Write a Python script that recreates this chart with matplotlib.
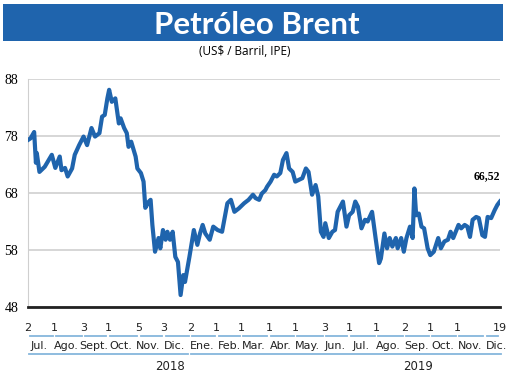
import matplotlib.pyplot as plt
import matplotlib.patches as mpatches
import pandas as pd

# Precio del petroleo Brent (US$/barril)
inicio = pd.Timestamp("2018-07-02")
dias = [0, 3, 7, 9, 10, 13, 19, 27, 31, 36, 38, 42, 45, 50, 53, 58, 63, 67, 72, 76,
        81, 84, 87, 90, 92, 95, 99, 103, 105, 109, 112, 114, 117, 122, 124, 128, 131, 133, 137, 139,
        141, 144, 148, 150, 153, 156, 158, 161, 164, 167, 170, 173, 176, 178, 183, 188, 192, 195, 198, 201,
        206, 210, 215, 220, 226, 230, 234, 239, 245, 250, 255, 258, 262, 265, 269, 271, 275, 279, 282, 286,
        289, 293, 296, 300, 303, 307, 311, 315, 318, 322, 326, 329, 332, 335, 337, 341, 345, 348, 351, 354,
        357, 361, 364, 368, 371, 374, 378, 382, 385, 390, 394, 398, 400, 404, 407, 410, 413, 417, 419, 423,
        426, 429, 433, 436, 438, 440, 443, 446, 449, 453, 456, 460, 465, 468, 472, 476, 479, 482, 488, 491,
        495, 498, 501, 504, 508, 511, 515, 518, 521, 525, 529, 532, 535]
precio = [77.3, 77.6, 78.7, 73.3, 75.0, 71.7, 72.6, 74.7, 72.4, 74.4, 72.0, 72.4, 70.9, 72.3, 74.7, 76.4, 77.9, 76.4, 79.4, 77.9,
          78.5, 81.4, 81.7, 84.6, 86.1, 84.0, 84.6, 80.2, 81.1, 79.4, 78.5, 76.1, 77.0, 74.4, 72.3, 71.5, 70.0, 65.4, 66.5, 66.8,
          62.4, 57.7, 60.1, 58.3, 61.5, 59.8, 61.2, 59.8, 61.2, 56.8, 55.9, 50.1, 53.6, 52.4, 56.8, 61.5, 58.9, 60.9, 62.4, 60.9,
          59.8, 62.1, 61.5, 61.2, 66.2, 66.8, 64.7, 65.3, 66.2, 66.8, 67.7, 67.1, 66.8, 67.9, 68.5, 69.1, 70.0, 71.2, 70.9, 71.5,
          73.8, 75.0, 72.3, 71.7, 70.0, 70.3, 70.6, 72.3, 71.7, 67.7, 69.4, 67.4, 61.2, 60.3, 62.7, 60.1, 61.2, 61.5, 64.7, 65.6,
          66.5, 62.1, 64.1, 64.7, 66.5, 65.6, 61.8, 63.3, 63.0, 64.7, 60.1, 55.7, 56.5, 60.9, 58.3, 60.1, 58.6, 60.1, 58.3, 60.1,
          57.7, 60.1, 62.1, 60.1, 68.8, 64.1, 64.4, 62.1, 61.8, 58.3, 57.1, 57.7, 60.1, 58.3, 59.5, 59.8, 61.2, 60.1, 62.4, 61.8,
          62.4, 62.1, 60.3, 63.3, 63.8, 63.6, 60.6, 60.3, 63.8, 63.6, 65.0, 65.9, 66.52]

# primer dia de cada mes en el eje
inicios_mes = ["2018-07-02", "2018-08-01", "2018-09-03", "2018-10-01", "2018-11-05", "2018-12-03",
               "2019-01-02", "2019-02-01", "2019-03-01", "2019-04-01", "2019-05-01", "2019-06-03",
               "2019-07-01", "2019-08-01", "2019-09-02", "2019-10-01", "2019-11-01", "2019-12-02", "2019-12-19"]
etiq_dia = ["2", "1", "3", "1", "5", "3", "2", "1", "1", "1", "1", "3", "1", "1", "2", "1", "1", "", "19"]
meses = ["Jul.", "Ago.", "Sept.", "Oct.", "Nov.", "Dic.", "Ene.", "Feb.", "Mar.", "Abr.", "May.", "Jun.",
         "Jul.", "Ago.", "Sep.", "Oct.", "Nov.", "Dic."]
centro_mes = pd.date_range("2018-07-01", "2019-12-01", freq="MS") + pd.Timedelta(days=14)
anios = ["2018", "2019"]
pos_anio = ["2018-12-10", "2019-09-17"]
rango_anio = [("2018-07-03", "2018-12-30"), ("2019-01-03", "2019-12-20")]

fechas = inicio + pd.to_timedelta(dias, unit="D")
azul = "#1f64ad"
celeste = "#86b6dc"

fig = plt.figure(figsize=(5.2, 3.76), dpi=100)
fig.patches.append(mpatches.Rectangle((0.006, 0.891), 0.962, 0.098, transform=fig.transFigure,
                                      facecolor=azul, edgecolor="none"))
fig.text(0.494, 0.9096, "Petróleo Brent", color="white", fontsize=22.5, fontweight="bold",
         family="Lato", ha="center", va="baseline")
fig.text(0.471, 0.862, "(US$ / Barril, IPE)", fontsize=8.5, family="Open Sans", ha="center", va="center")

ax = fig.add_axes([0.0538, 0.1835, 0.9077, 0.6064])
ax.plot(fechas, precio, color=azul, linewidth=3, solid_joinstyle="round", zorder=3)
ax.set_ylim(48, 88)
ax.set_xlim(inicio, pd.Timestamp("2019-12-19"))
ax.set_yticks([48, 58, 68, 78, 88])
ax.tick_params(axis="y", length=0, pad=7, labelsize=10)
for t in ax.get_yticklabels():
    t.set_family("Liberation Serif")
ax.set_xticks([])
ax.grid(axis="y", color="#cfcfcf", linewidth=1.2)
for s in ["top", "right"]:
    ax.spines[s].set_visible(False)
ax.spines["left"].set_color("#cfcfcf")
ax.spines["bottom"].set_color("#222222")
ax.spines["bottom"].set_linewidth(2)

ax.text(pd.Timestamp("2019-12-19"), 71, "66,52", fontsize=8.5, fontweight="bold",
        family="Liberation Serif", ha="right", va="center")

tr = ax.get_xaxis_transform()
fnt = ["Liberation Sans Narrow", "DejaVu Sans"]
ini = pd.to_datetime(inicios_mes)
for i, (f, d) in enumerate(zip(ini, etiq_dia)):
    if d:
        ax.text(f, -0.092, d, transform=tr, fontsize=8, family=fnt, ha="center", va="center", color="#222222")
    if i < len(ini) - 1:
        ax.plot([f + pd.Timedelta(days=2), ini[i + 1] - pd.Timedelta(days=2)], [-0.127, -0.127],
                transform=tr, color=celeste, linewidth=1.3, clip_on=False)
for c, m in zip(centro_mes, meses):
    ax.text(c, -0.171, m, transform=tr, fontsize=8, family=fnt, ha="center", va="center", color="#222222")
for (a, b), p, y in zip(rango_anio, pos_anio, anios):
    ax.plot(pd.to_datetime([a, b]), [-0.206, -0.206], transform=tr, color=celeste, linewidth=1.3, clip_on=False)
    ax.text(pd.Timestamp(p), -0.259, y, transform=tr, fontsize=8.5, family=fnt, ha="center", va="center",
            color="#222222")

fig.savefig("out.png", dpi=100)
